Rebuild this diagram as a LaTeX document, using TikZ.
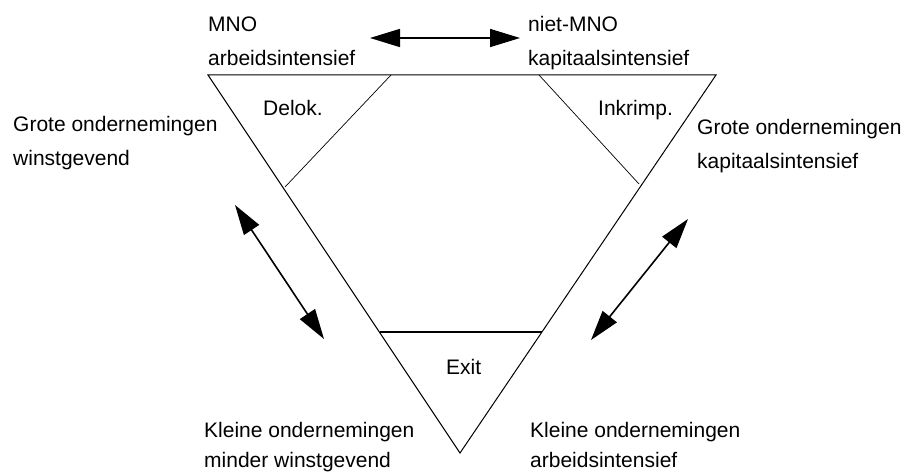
\documentclass[tikz,border=0pt]{standalone}
\usepackage{fontspec}
\setmainfont{Liberation Sans}
\usetikzlibrary{arrows.meta}
\tikzset{
  lbl/.style={anchor=base west, inner sep=0pt, font=\fontsize{21}{25}\selectfont},
  edge/.style={line width=1pt, black},
  bigarrow/.style={line width=1.6pt, {Triangle[length=30pt,width=18pt]}-{Triangle[length=30pt,width=18pt]}}
}
\begin{document}
\begin{tikzpicture}[x=1pt,y=-1pt]
\useasboundingbox[fill=white] (0,0) rectangle (920,473);
% triangle
\coordinate (A) at (208,75);
\coordinate (B) at (716,75);
\coordinate (C) at (460,453);
\draw[edge, line join=miter] (A) -- (B) -- (C) -- cycle;
% cut lines
\coordinate (d1) at (391,75);
\coordinate (d2) at (285,187);
\coordinate (k1) at (539,75);
\coordinate (k2) at (639,184);
\coordinate (e1) at (380,332);
\coordinate (e2) at (542,332);
\draw[line width=0.7pt] (d1) -- (d2);
\draw[line width=0.7pt] (k1) -- (k2);
\draw[line width=2pt] (e1) -- (e2);
% arrows
\coordinate (t1) at (370,38);
\coordinate (t2) at (520,38);
\coordinate (l1) at (235,205);
\coordinate (l2) at (324,339);
\coordinate (r1) at (688,219);
\coordinate (r2) at (591,340);
\draw[bigarrow] (t1) -- (t2);
\draw[bigarrow] (l1) -- (l2);
\draw[bigarrow] (r1) -- (r2);
% labels
\node[lbl] (mno) at (208,32) {MNO};
\node[lbl] (mno2) at (208,66) {arbeidsintensief};
\node[lbl] (nmno) at (528,32) {niet-MNO};
\node[lbl] (nmno2) at (528,66) {kapitaalsintensief};
\node[lbl] (delok) at (263,116) {Delok.};
\node[lbl] (inkr) at (598,116) {Inkrimp.};
\node[lbl] (gl1) at (13,132) {Grote ondernemingen};
\node[lbl] (gl2) at (13,166) {winstgevend};
\node[lbl] (gr1) at (697,135) {Grote ondernemingen};
\node[lbl] (gr2) at (697,168) {kapitaalsintensief};
\node[lbl] (exit) at (446,374) {Exit};
\node[lbl] (kl1) at (204,437) {Kleine ondernemingen};
\node[lbl] (kl2) at (204,467) {minder winstgevend};
\node[lbl] (kr1) at (530,437) {Kleine ondernemingen};
\node[lbl] (kr2) at (530,467) {arbeidsintensief};
\end{tikzpicture}
\end{document}
